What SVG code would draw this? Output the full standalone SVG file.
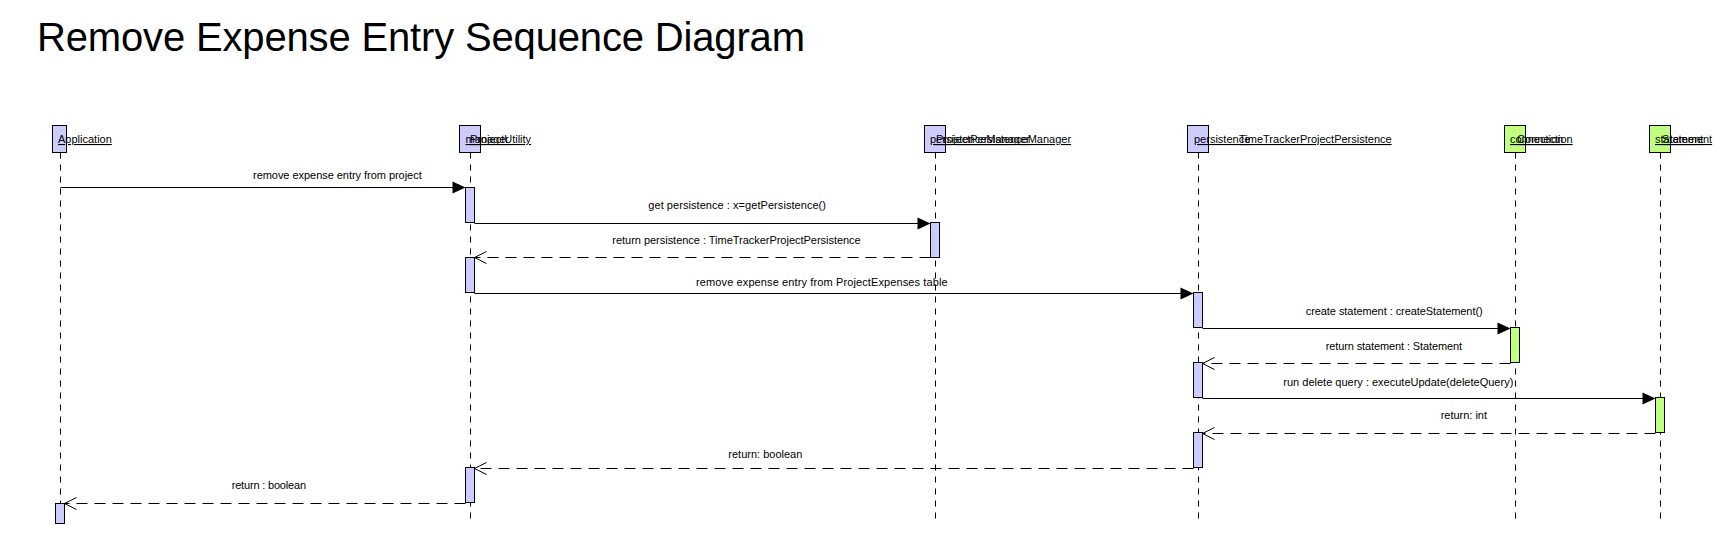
<svg xmlns="http://www.w3.org/2000/svg" width="1720" height="534" viewBox="0 0 1720 534">
<style>
text{font-family:"Liberation Sans",Arial,sans-serif;fill:#000}
.title{font-size:40px}
.lbl{font-size:11px;text-decoration:underline}
.msg{font-size:11px}
.head{stroke:#000;stroke-width:1}
.blue{fill:#CCCCFF}
.green{fill:#C0FF80}
.life{stroke:#000;stroke-width:1;stroke-dasharray:6 6;fill:none}
.call{stroke:#000;stroke-width:1;fill:none}
.ret{stroke:#000;stroke-width:1;stroke-dasharray:11 7;fill:none}
.fill{fill:#000;stroke:none}
.open{stroke:#000;stroke-width:1;fill:none}
</style>
<rect width="1720" height="534" fill="#fff"/>
<text class="title" x="37" y="51" textLength="768">Remove Expense Entry Sequence Diagram</text>

<g id="application">
<line class="life" x1="60.5" y1="152.5" x2="60.5" y2="520"/>
<rect class="head blue" x="52.5" y="125.5" width="14" height="27"/>
<text class="lbl" x="58" y="143">Application</text>
<rect class="head blue" x="55.5" y="503.5" width="9" height="20"/>
</g>

<g id="projectUtility">
<line class="life" x1="470.5" y1="152.5" x2="470.5" y2="520"/>
<rect class="head blue" x="459.5" y="125.5" width="21" height="27"/>
<text class="lbl" x="465.5" y="143">manager</text>
<text class="lbl" x="470" y="143">ProjectUtility</text>
<rect class="head blue" x="465.5" y="187.5" width="9" height="35"/>
<rect class="head blue" x="465.5" y="257.5" width="9" height="35"/>
<rect class="head blue" x="465.5" y="467.5" width="9" height="35"/>
</g>

<g id="persistenceManager">
<line class="life" x1="935.5" y1="152.5" x2="935.5" y2="520"/>
<rect class="head blue" x="924.5" y="125.5" width="21" height="27"/>
<text class="lbl" x="930" y="143">persistenceManager</text>
<text class="lbl" x="936" y="143">ProjectPersistenceManager</text>
<rect class="head blue" x="930.5" y="222.5" width="9" height="35"/>
</g>

<g id="persistence">
<line class="life" x1="1198.5" y1="152.5" x2="1198.5" y2="520"/>
<rect class="head blue" x="1187.5" y="125.5" width="21" height="27"/>
<text class="lbl" x="1194" y="143">persistence</text>
<text class="lbl" x="1239" y="143">TimeTrackerProjectPersistence</text>
<rect class="head blue" x="1193.5" y="292.5" width="9" height="35"/>
<rect class="head blue" x="1193.5" y="362.5" width="9" height="35"/>
<rect class="head blue" x="1193.5" y="432.5" width="9" height="35"/>
</g>

<g id="connection">
<line class="life" x1="1515.5" y1="152.5" x2="1515.5" y2="520"/>
<rect class="head green" x="1504.5" y="125.5" width="21" height="27"/>
<text class="lbl" x="1510" y="143">connection</text>
<text class="lbl" x="1517" y="143">Connection</text>
<rect class="head green" x="1510.5" y="327.5" width="9" height="35"/>
</g>

<g id="statement">
<line class="life" x1="1660.5" y1="152.5" x2="1660.5" y2="520"/>
<rect class="head green" x="1649.5" y="125.5" width="21" height="27"/>
<text class="lbl" x="1655" y="143">statement</text>
<text class="lbl" x="1662" y="143">Statement</text>
<rect class="head green" x="1655.5" y="397.5" width="9" height="35"/>
</g>

<g id="connectors">
<!-- M1 -->
<line class="call" x1="60.5" y1="187.5" x2="453" y2="187.5"/>
<polygon class="fill" points="465.5,187.5 452.5,181.5 452.5,193.5"/>
<text class="msg" x="253" y="179" textLength="168.7">remove expense entry from project</text>
<!-- M2 -->
<line class="call" x1="474.5" y1="223.5" x2="918" y2="223.5"/>
<polygon class="fill" points="930.5,223.5 917.5,217.5 917.5,229.5"/>
<text class="msg" x="648.3" y="208.7" textLength="177.7">get persistence : x=getPersistence()</text>
<!-- R1 -->
<line class="ret" x1="930.5" y1="257.5" x2="475" y2="257.5"/>
<polyline class="open" points="486.5,251.5 474.5,257.5 486.5,263.5"/>
<text class="msg" x="612.3" y="244" textLength="248.4">return persistence : TimeTrackerProjectPersistence</text>
<!-- M3 -->
<line class="call" x1="474.5" y1="293.5" x2="1181" y2="293.5"/>
<polygon class="fill" points="1193.5,293.5 1180.5,287.5 1180.5,299.5"/>
<text class="msg" x="696" y="286" textLength="251.7">remove expense entry from ProjectExpenses table</text>
<!-- M4 -->
<line class="call" x1="1202.5" y1="328.5" x2="1498" y2="328.5"/>
<polygon class="fill" points="1510.5,328.5 1497.5,322.5 1497.5,334.5"/>
<text class="msg" x="1305.7" y="314.5" textLength="177">create statement : createStatement()</text>
<!-- R2 -->
<line class="ret" x1="1510.5" y1="363.5" x2="1203" y2="363.5"/>
<polyline class="open" points="1214.5,357.5 1202.5,363.5 1214.5,369.5"/>
<text class="msg" x="1325.7" y="349.5" textLength="136.3">return statement : Statement</text>
<!-- M5 -->
<line class="call" x1="1202.5" y1="398.5" x2="1643" y2="398.5"/>
<polygon class="fill" points="1655.5,398.5 1642.5,392.5 1642.5,404.5"/>
<text class="msg" x="1283.3" y="386" textLength="230">run delete query : executeUpdate(deleteQuery)</text>
<!-- R3 -->
<line class="ret" x1="1655.5" y1="433.5" x2="1203" y2="433.5"/>
<polyline class="open" points="1214.5,427.5 1202.5,433.5 1214.5,439.5"/>
<text class="msg" x="1440.7" y="419" textLength="46.3">return: int</text>
<!-- R4 -->
<line class="ret" x1="1193.5" y1="468.5" x2="475" y2="468.5"/>
<polyline class="open" points="486.5,462.5 474.5,468.5 486.5,474.5"/>
<text class="msg" x="728.3" y="458.3" textLength="74">return: boolean</text>
<!-- R5 -->
<line class="ret" x1="465.5" y1="503.5" x2="65" y2="503.5"/>
<polyline class="open" points="76.5,497.5 64.5,503.5 76.5,509.5"/>
<text class="msg" x="231.7" y="488.7" textLength="74.3">return : boolean</text>
</g>
</svg>
